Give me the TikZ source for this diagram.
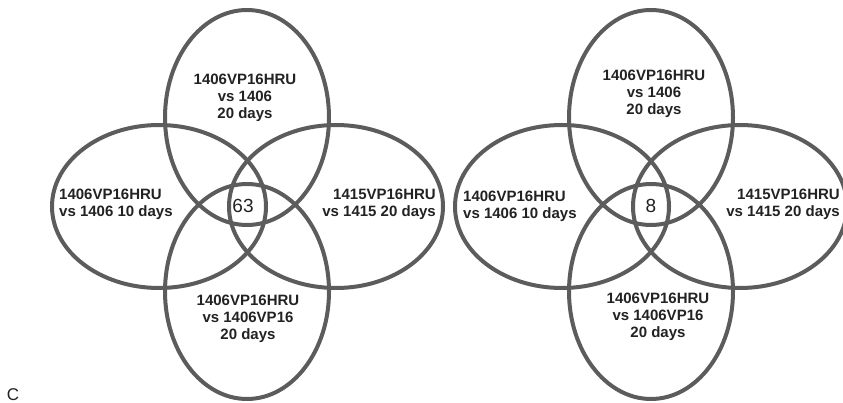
\documentclass[tikz,border=0pt]{standalone}
\usepackage{fontspec}
\setmainfont{Liberation Sans}
\usetikzlibrary{shapes.geometric}
\definecolor{ringgray}{HTML}{5C5C5C}
\definecolor{txtgray}{HTML}{222222}
\tikzset{
  ring/.style={ellipse, draw=ringgray, line width=4pt, inner sep=0pt, outer sep=0pt},
  vring/.style={ring, minimum width=164pt, minimum height=215pt},
  hring/.style={ring, minimum width=214pt, minimum height=163pt},
  lbl/.style={font=\fontsize{15}{17}\selectfont\bfseries, text=txtgray, inner sep=0pt},
  num/.style={font=\fontsize{19}{21}\selectfont, text=txtgray, inner sep=0pt}
}
\begin{document}
\begin{tikzpicture}[x=1pt,y=-1pt]
\useasboundingbox (0,0) rectangle (843,403);
\clip (0,0) rectangle (843,403);
% left diagram
\node[vring] (Ltop) at (247,117.5) {};
\node[vring] (Lbot) at (247,291.5) {};
\node[hring] (Lleft) at (159,206.5) {};
\node[hring] (Lright) at (336,206.5) {};
\node[lbl, align=center] (LtopT) at (245,98) {1406VP16HRU\\vs 1406\\20 days};
\node[lbl, align=left, anchor=west] (LleftT) at (59,204) {1406VP16HRU\\vs 1406 10 days};
\node[lbl, align=right, anchor=east] (LrightT) at (436,204) {1415VP16HRU\\vs 1415 20 days};
\node[lbl, align=center] (LbotT) at (248,319) {1406VP16HRU\\vs 1406VP16\\20 days};
\node[num] (Lnum) at (243,206) {63};
% right diagram
\node[vring] (Rtop) at (651,117.5) {};
\node[vring] (Rbot) at (651,291.5) {};
\node[hring] (Rleft) at (562,206.5) {};
\node[hring] (Rright) at (740,206.5) {};
\node[lbl, align=center] (RtopT) at (654,94) {1406VP16HRU\\vs 1406\\20 days};
\node[lbl, align=left, anchor=west] (RleftT) at (463,206) {1406VP16HRU\\vs 1406 10 days};
\node[lbl, align=right, anchor=east] (RrightT) at (840,204) {1415VP16HRU\\vs 1415 20 days};
\node[lbl, align=center] (RbotT) at (658,317) {1406VP16HRU\\vs 1406VP16\\20 days};
\node[num] (Rnum) at (651,206) {8};
% panel letter
\node[font=\fontsize{17}{19}\selectfont, text=txtgray, inner sep=0pt] (panel) at (13,395) {C};
\end{tikzpicture}
\end{document}
